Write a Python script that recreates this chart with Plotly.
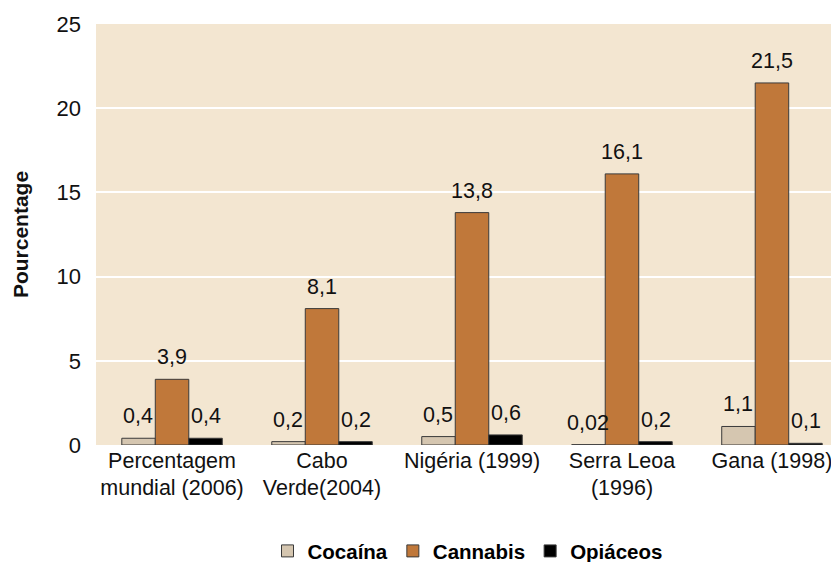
import plotly.graph_objects as go

categories = ["Percentagem<br>mundial (2006)", "Cabo<br>Verde(2004)", "Nigéria (1999)", "Serra Leoa<br>(1996)", "Gana (1998)"]
cocaina = [0.4, 0.2, 0.5, 0.02, 1.1]
cannabis = [3.9, 8.1, 13.8, 16.1, 21.5]
opiaceos = [0.4, 0.2, 0.6, 0.2, 0.1]
cocaina_lbl = ["0,4", "0,2", "0,5", "0,02", "1,1"]
cannabis_lbl = ["3,9", "8,1", "13,8", "16,1", "21,5"]
opiaceos_lbl = ["0,4", "0,2", "0,6", "0,2", "0,1"]

series = [
    ("Cocaína", cocaina, cocaina_lbl, "#D5C6B0"),
    ("Cannabis", cannabis, cannabis_lbl, "#C0783A"),
    ("Opiáceos", opiaceos, opiaceos_lbl, "#000000"),
]

FONT = "Liberation Sans, Arial, sans-serif"
fig = go.Figure()
for name, vals, _, col in series:
    fig.add_trace(go.Bar(name=name, x=categories, y=vals, marker=dict(color=col, line=dict(color="#3a3a3a", width=1)),
                         hoverinfo="skip"))

bar_px = 34
annotations = []
for i, (name, vals, lbls, col) in enumerate(series):
    for c, v, t in zip(categories, vals, lbls):
        annotations.append(dict(x=c, y=v, text=t, showarrow=False, xref="x", yref="y",
                                xshift=(i - 1) * bar_px, yshift=8, yanchor="bottom",
                                font=dict(family=FONT, size=21.5, color="#111111")))

fig.update_layout(
    width=839, height=570,
    margin=dict(l=88, r=8, t=16, b=132),
    barmode="group", bargap=0.33, bargroupgap=0,
    plot_bgcolor="#F3E6D1", paper_bgcolor="white",
    font=dict(family=FONT, size=22, color="#111111"),
    annotations=annotations,
    showlegend=True,
    legend=dict(orientation="h", x=0.5, xanchor="center", y=-0.249, yanchor="middle",
                font=dict(family=FONT, size=20.5, color="#000000", weight="bold"), itemwidth=30,
                traceorder="normal"),
    xaxis=dict(range=[-0.507, 4.447], showgrid=False, ticks="", tickfont=dict(size=21.5), showline=False,
               automargin=False),
    yaxis=dict(range=[0, 25], dtick=5, showgrid=True, gridcolor="white", gridwidth=1.5, zeroline=False,
               tickfont=dict(size=22), ticklabelstandoff=14, automargin=False,
               title=dict(text="Pourcentage", font=dict(size=21, weight="bold"), standoff=22)),
)
fig.write_html("out.html")
